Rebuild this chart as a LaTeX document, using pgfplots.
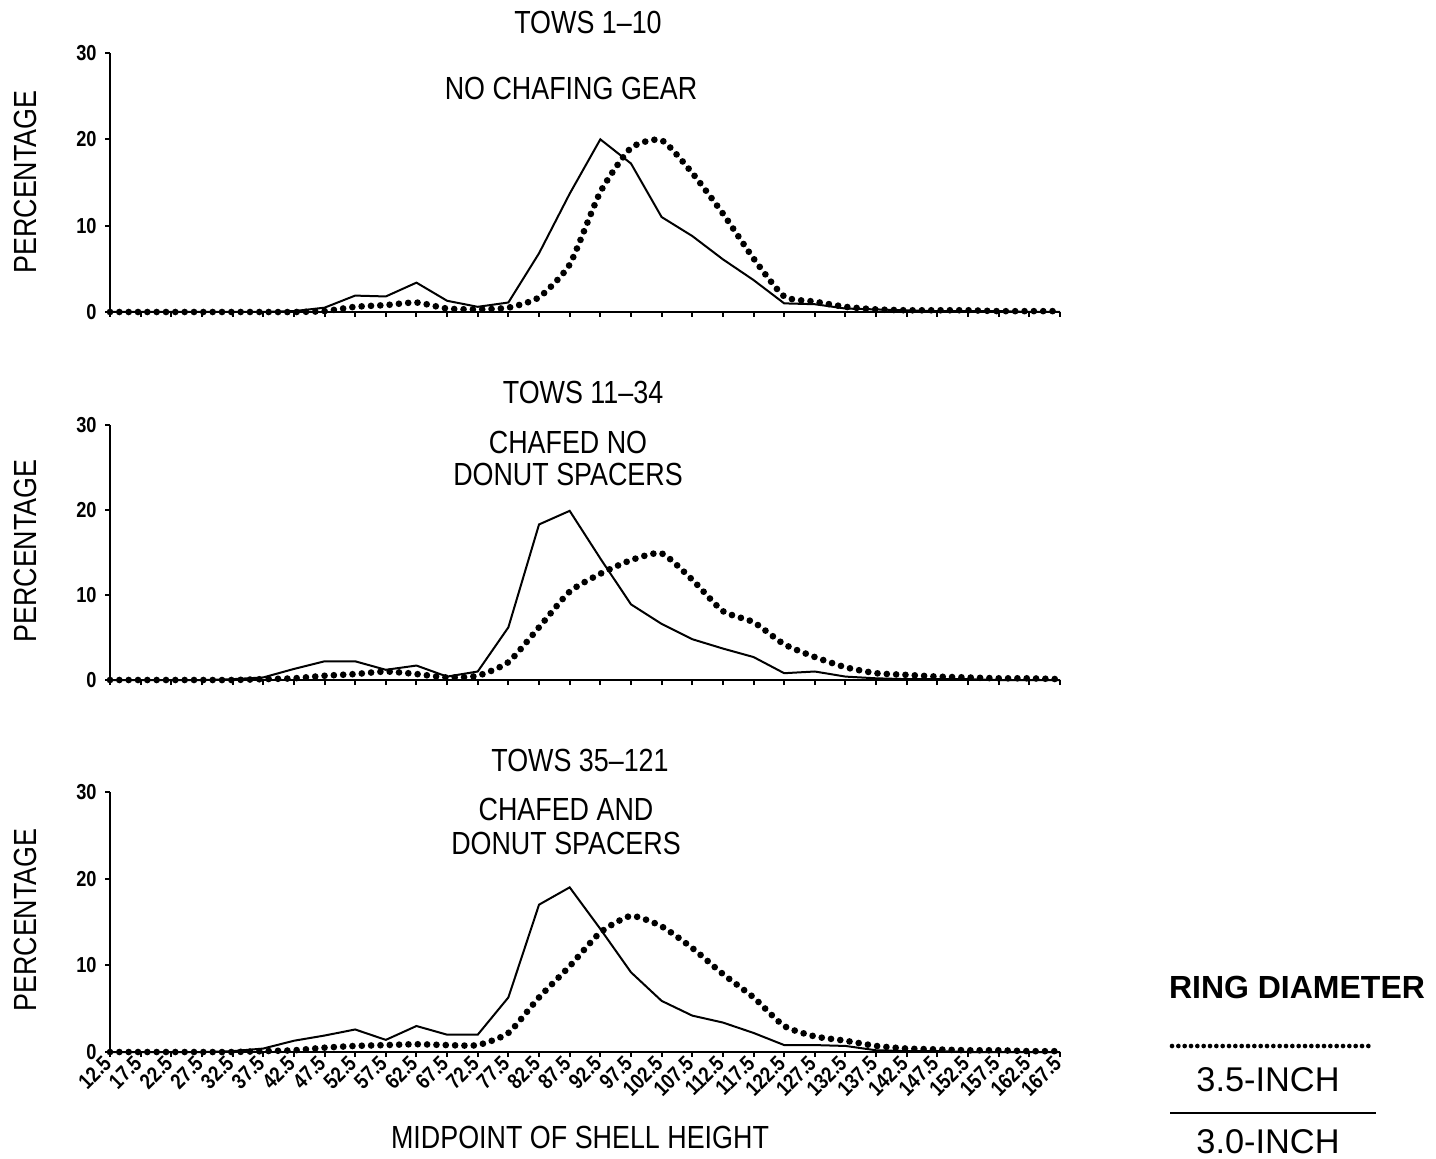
\documentclass[border=0pt]{standalone}
\usepackage{fontspec}
\setmainfont{Liberation Sans}[FakeStretch=0.84]
\newfontfamily\legfont{Liberation Sans}
\usepackage{pgfplots}
\usepackage{pgfplotstable}
\pgfplotsset{compat=1.18}

% shell height midpoint, percentage: a = 3.0-inch rings, b = 3.5-inch rings
\pgfplotstableread{
x     a     b
12.5  0     0
17.5  0     0
22.5  0     0
27.5  0     0
32.5  0     0
37.5  0     0
42.5  0.1   0
47.5  0.5   0.1
52.5  1.9   0.6
57.5  1.8   0.8
62.5  3.4   1.1
67.5  1.3   0.4
72.5  0.6   0.3
77.5  1.1   0.5
82.5  6.8   1.7
87.5  13.7  5.5
92.5  20.0  13.9
97.5  17.2  19.0
102.5 11.0  19.9
107.5 8.8   16.1
112.5 6.1   11.4
117.5 3.7   6.2
122.5 1.0   1.8
127.5 0.9   1.2
132.5 0.4   0.6
137.5 0.3   0.3
142.5 0.2   0.2
147.5 0.1   0.2
152.5 0.1   0.2
157.5 0.1   0.1
162.5 0     0.1
167.5 0     0.1
}\towsA

\pgfplotstableread{
x     a     b
12.5  0     0
17.5  0     0
22.5  0     0
27.5  0     0
32.5  0.1   0
37.5  0.3   0.1
42.5  1.3   0.2
47.5  2.2   0.5
52.5  2.2   0.7
57.5  1.2   1.0
62.5  1.7   0.7
67.5  0.4   0.3
72.5  1.0   0.5
77.5  6.2   2.1
82.5  18.3  6.2
87.5  19.9  10.4
92.5  14.3  12.5
97.5  8.9   14.1
102.5 6.6   14.9
107.5 4.8   11.8
112.5 3.7   8.1
117.5 2.7   6.8
122.5 0.8   4.2
127.5 1.0   2.7
132.5 0.4   1.5
137.5 0.2   0.8
142.5 0.1   0.6
147.5 0.1   0.4
152.5 0.1   0.3
157.5 0     0.2
162.5 0     0.2
167.5 0     0.1
}\towsB

\pgfplotstableread{
x     a     b
12.5  0     0
17.5  0     0
22.5  0     0
27.5  0     0
32.5  0.1   0
37.5  0.4   0.1
42.5  1.3   0.2
47.5  1.9   0.5
52.5  2.6   0.7
57.5  1.4   0.8
62.5  3.0   0.9
67.5  2.0   0.8
72.5  2.0   0.8
77.5  6.3   2.2
82.5  17.0  6.3
87.5  19.0  9.9
92.5  14.2  13.8
97.5  9.2   15.7
102.5 5.9   14.5
107.5 4.2   12.0
112.5 3.4   9.0
117.5 2.2   6.3
122.5 0.8   3.0
127.5 0.8   1.8
132.5 0.7   1.3
137.5 0.2   0.7
142.5 0.1   0.4
147.5 0.1   0.3
152.5 0     0.2
157.5 0     0.2
162.5 0     0.1
167.5 0     0.1
}\towsC

\pgfplotsset{
  panel/.style={
    scale only axis, width=285pt,
    anchor=south west,
    xmin=12.5, xmax=167.5, ymin=0, ymax=30,
    axis lines=left, axis line style={-, line width=0.5pt},
    xtick={12.5,17.5,...,167.5}, ytick={0,10,20,30},
    tick align=outside, major tick length=1.5pt,
    tick style={black, line width=0.6pt},
    every tick label/.append style={font=\fontsize{6.5}{7}\selectfont\bfseries},
    yticklabel style={xshift=1pt},
    /pgf/number format/assume math mode=true,
    clip=false,
  },
  inch30/.style={black, line width=0.6pt, mark=none},
  inch35/.style={black, line width=2pt, line cap=round,
    dash pattern=on 0pt off 2.8pt, smooth, tension=0.35, mark=none},
}

\begin{document}
\begin{tikzpicture}
\path (0,0) rectangle (430.8pt,-347.7pt);

\begin{axis}[panel, at={(33pt,-93.6pt)}, height=77.7pt, xticklabels={}]
  \addplot[inch35] table[x=x, y=b] {\towsA};
  \addplot[inch30] table[x=x, y=a] {\towsA};
\end{axis}

\begin{axis}[panel, at={(33pt,-204pt)}, height=76.5pt, xticklabels={}]
  \addplot[inch35] table[x=x, y=b] {\towsB};
  \addplot[inch30] table[x=x, y=a] {\towsB};
\end{axis}

\begin{axis}[panel, at={(33pt,-315.6pt)}, height=78pt,
  xticklabel style={rotate=45, anchor=east, inner sep=1pt,
    /pgf/number format/.cd, fixed, fixed zerofill, precision=1}]
  \addplot[inch35] table[x=x, y=b] {\towsC};
  \addplot[inch30] table[x=x, y=a] {\towsC};
\end{axis}

\begin{scope}[x=0.3pt, y=-0.3pt, every node/.style={font=\fontsize{9.6}{11}\selectfont, inner sep=0pt}]
  \node at (588,22) {TOWS 1--10};
  \node at (571,88) {NO CHAFING GEAR};
  \node at (583,392) {TOWS 11--34};
  \node at (568,442) {CHAFED NO};
  \node at (568,474) {DONUT SPACERS};
  \node at (580,760) {TOWS 35--121};
  \node at (566,809) {CHAFED AND};
  \node at (566,843) {DONUT SPACERS};
  \node at (580,1137) {MIDPOINT OF SHELL HEIGHT};
  \node[rotate=90] at (25,182) {PERCENTAGE};
  \node[rotate=90] at (25,551) {PERCENTAGE};
  \node[rotate=90] at (25,920) {PERCENTAGE};
  \node[font=\legfont\fontsize{9.6}{12}\selectfont\bfseries] at (1297,987) {RING DIAMETER};
  \draw[black, line width=1.4pt, line cap=round, dash pattern=on 0pt off 1.9pt] (1172,1046) -- (1374,1046);
  \node[font=\legfont\fontsize{10.3}{12}\selectfont] at (1268,1080) {3.5-INCH};
  \draw[black, line width=0.6pt] (1170,1113) -- (1376,1113);
  \node[font=\legfont\fontsize{10.3}{12}\selectfont] at (1268,1142) {3.0-INCH};
\end{scope}
\end{tikzpicture}
\end{document}
